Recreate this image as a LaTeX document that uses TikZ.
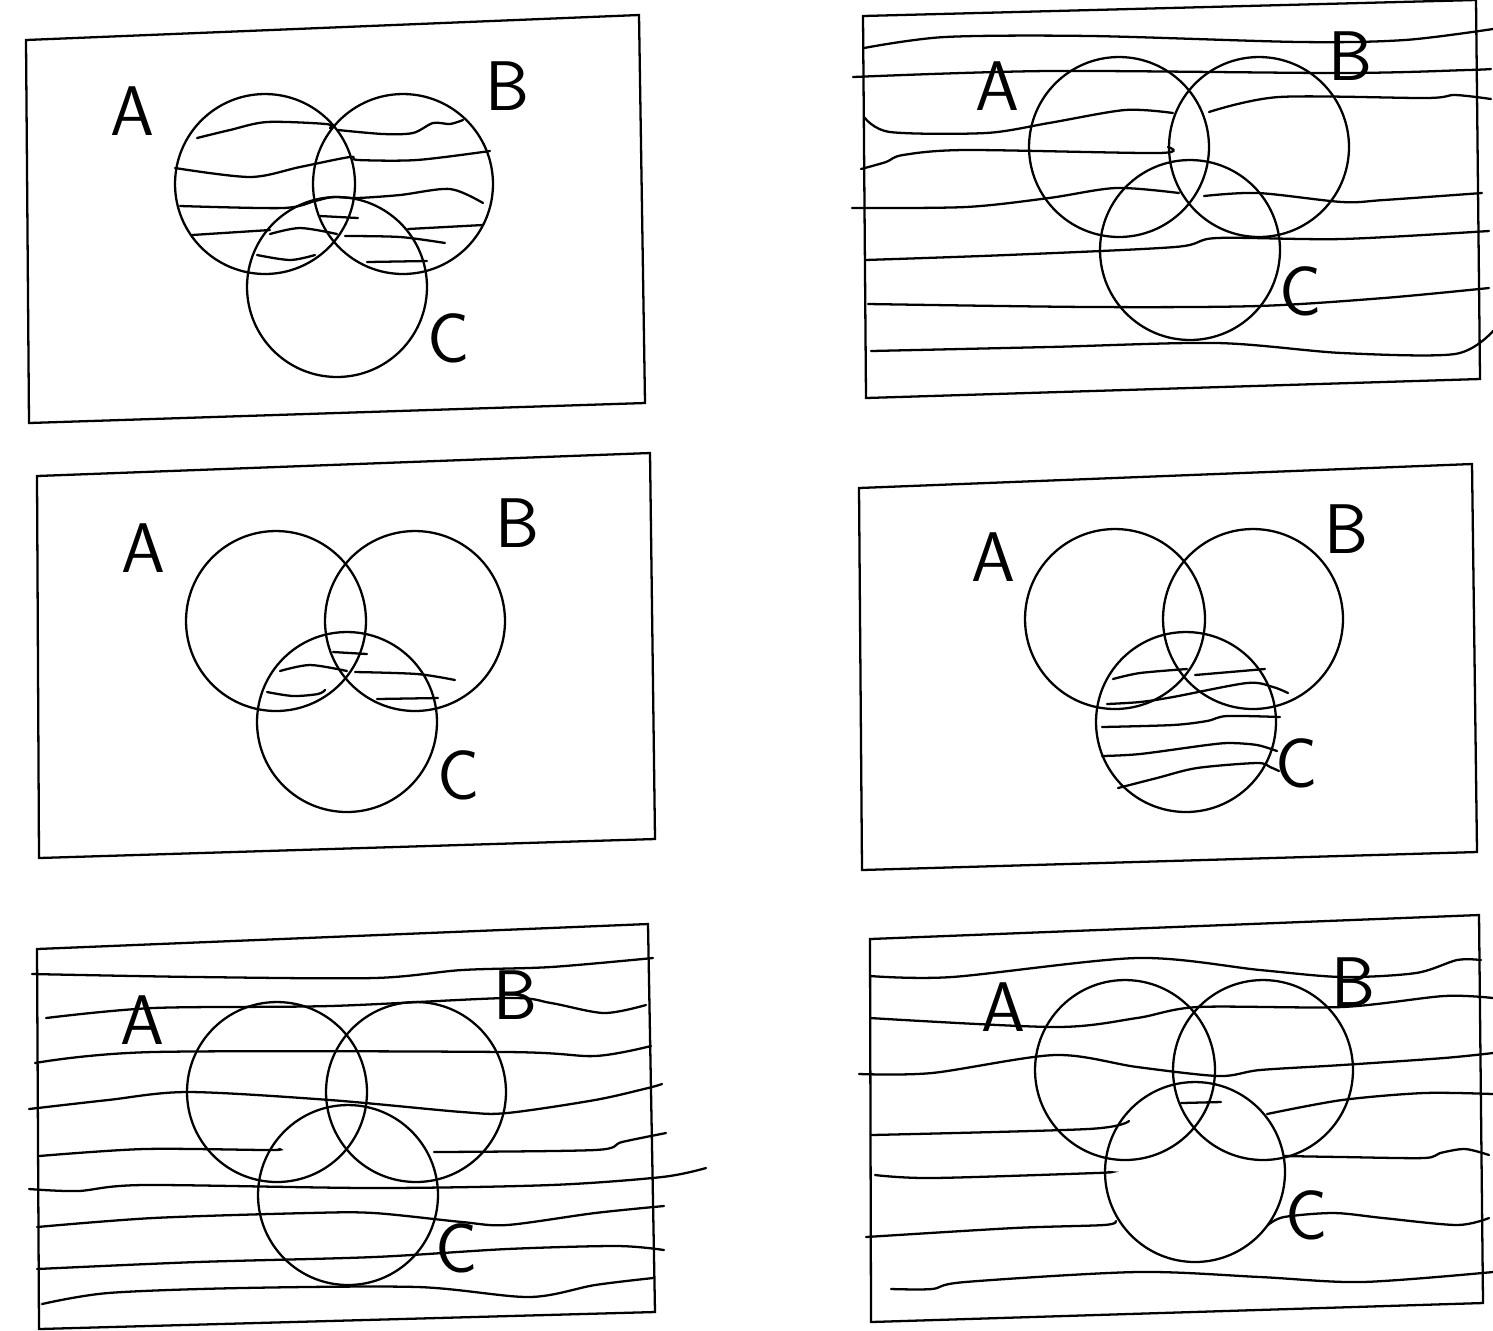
\documentclass[tikz,border=0pt]{standalone}
\usepackage{tikz}
\usetikzlibrary{positioning}
\tikzstyle{set} = [circle, draw, line width=1.3pt, minimum size=3.6cm, inner sep=0pt]
\tikzstyle{setname} = [font=\sffamily\fontsize{40}{40}\selectfont, inner sep=0pt]
\tikzstyle{frame} = [line width=1.3pt]
\tikzstyle{hatch} = [line width=1.3pt, line cap=round]

\begin{document}
\begin{tikzpicture}[x=0.02cm, y=-0.02cm]
        \useasboundingbox (0,0) rectangle (1493,1330);

        % top left
        \draw [frame] (26,40) -- (639,15) -- (645,403) -- (29,423) -- cycle;
        \node (A1) [set] at (265,184) {};
        \node (B1) [set] at (403,184) {};
        \node (C1) [set] at (337,287) {};
        \node (nA1) [setname] at (132,111) {A};
        \node (nB1) [setname] at (507,86) {B};
        \node (nC1) [setname] at (449,338) {C};
        \draw [hatch] plot [smooth] coordinates {(197,138) (230,130) (267,122) (326,124) (330,128)};
        \draw [hatch] plot [smooth] coordinates {(338,130) (383,134) (413,133) (433,123) (450,124) (463,120)};
        \draw [hatch] plot [smooth] coordinates {(175,168) (250,177) (300,167) (350,157) (358,160) (417,160) (490,151)};
        \draw [hatch] plot [smooth] coordinates {(180,206) (283,208) (315,201) (333,197) (357,198) (400,195) (450,189) (483,203)};
        \draw [hatch] (320,216) -- (358,218);
        \draw [hatch] (192,235) -- (270,230);
        \draw [hatch] plot [smooth] coordinates {(270,234) (300,228) (337,234)};
        \draw [hatch] plot [smooth] coordinates {(345,236) (400,237) (445,243)};
        \draw [hatch] (408,229) -- (483,225);
        \draw [hatch] plot [smooth] coordinates {(257,255) (290,260) (315,255)};
        \draw [hatch] (367,262) -- (427,261);

        % top right
        \draw [frame] (863,16) -- (1476,0) -- (1480,379) -- (866,398) -- cycle;
        \node (A2) [set] at (1119,147) {};
        \node (B2) [set] at (1259,147) {};
        \node (C2) [set] at (1190,250) {};
        \node (nA2) [setname] at (997,86) {A};
        \node (nB2) [setname] at (1350,56) {B};
        \node (nC2) [setname] at (1301,291) {C};
        \draw [hatch] plot [smooth] coordinates {(864,48) (945,37) (1091,36) (1300,42) (1405,40) (1493,29)};
        \draw [hatch] plot [smooth] coordinates {(853,77) (1049,71) (1342,73) (1468,70) (1491,69)};
        \draw [hatch] plot [smooth] coordinates {(864,117) (890,132) (986,133) (1049,123) (1125,110) (1173,113)};
        \draw [hatch] plot [smooth] coordinates {(1209,112) (1279,97) (1426,98) (1455,95) (1491,99)};
        \draw [hatch] plot [smooth] coordinates {(861,169) (886,162) (903,155) (966,150) (1158,153) (1168,147)};
        \draw [hatch] plot [smooth] coordinates {(852,208) (966,207) (1049,198) (1116,188) (1179,193)};
        \draw [hatch] plot [smooth] coordinates {(1204,196) (1258,193) (1342,202) (1384,200) (1482,193)};
        \draw [hatch] plot [smooth] coordinates {(865,260) (1007,255) (1175,247) (1217,238) (1342,239) (1489,231)};
        \draw [hatch] plot [smooth] coordinates {(868,304) (1091,307) (1258,306) (1384,298) (1489,288)};
        \draw [hatch] plot [smooth] coordinates {(871,351) (1049,347) (1217,343) (1342,353) (1455,354) (1493,331)};

        % middle left
        \draw [frame] (37,476) -- (650,453) -- (655,839) -- (39,858) -- cycle;
        \node (A3) [set] at (276,621) {};
        \node (B3) [set] at (415,621) {};
        \node (C3) [set] at (347,722) {};
        \node (nA3) [setname] at (143,548) {A};
        \node (nB3) [setname] at (517,523) {B};
        \node (nC3) [setname] at (459,775) {C};
        \draw [hatch] (333,652) -- (367,654);
        \draw [hatch] plot [smooth] coordinates {(280,671) (310,665) (347,671)};
        \draw [hatch] plot [smooth] coordinates {(355,672) (417,674) (455,680)};
        \draw [hatch] plot [smooth] coordinates {(267,692) (293,696) (318,694) (325,690)};
        \draw [hatch] (377,699) -- (438,698);

        % middle right
        \draw [frame] (859,488) -- (1472,464) -- (1477,852) -- (862,870) -- cycle;
        \node (A4) [set] at (1115,619) {};
        \node (B4) [set] at (1253,619) {};
        \node (C4) [set] at (1186,722) {};
        \node (nA4) [setname] at (993,557) {A};
        \node (nB4) [setname] at (1346,529) {B};
        \node (nC4) [setname] at (1297,763) {C};
        \draw [hatch] plot [smooth] coordinates {(1113,679) (1140,673) (1187,669)};
        \draw [hatch] (1195,675) -- (1265,669);
        \draw [hatch] plot [smooth] coordinates {(1107,704) (1140,702) (1173,697) (1247,683) (1273,687) (1288,693)};
        \draw [hatch] plot [smooth] coordinates {(1102,727) (1173,725) (1207,721) (1227,716) (1280,717)};
        \draw [hatch] plot [smooth] coordinates {(1102,756) (1140,754) (1207,745) (1230,743) (1257,745) (1277,751)};
        \draw [hatch] plot [smooth] coordinates {(1118,788) (1157,778) (1197,768) (1257,763) (1270,767) (1279,771)};

        % bottom left
        \draw [frame] (37,949) -- (648,924) -- (655,1312) -- (39,1329) -- cycle;
        \node (A5) [set] at (277,1092) {};
        \node (B5) [set] at (416,1092) {};
        \node (C5) [set] at (348,1195) {};
        \node (nA5) [setname] at (142,1020) {A};
        \node (nB5) [setname] at (515,995) {B};
        \node (nC5) [setname] at (457,1248) {C};
        \draw [hatch] plot [smooth] coordinates {(32,974) (197,977) (374,978) (462,970) (551,967) (653,958)};
        \draw [hatch] plot [smooth] coordinates {(46,1018) (153,1008) (330,1006) (507,998) (551,1003) (604,1013) (646,1005)};
        \draw [hatch] plot [smooth] coordinates {(35,1063) (153,1052) (507,1052) (595,1056) (651,1046)};
        \draw [hatch] plot [smooth] coordinates {(29,1109) (108,1100) (188,1092) (330,1100) (462,1112) (507,1113) (595,1100) (648,1088) (662,1084)};
        \draw [hatch] plot [smooth] coordinates {(39,1156) (144,1149) (268,1150) (279,1149)};
        \draw [hatch] plot [smooth] coordinates {(434,1152) (595,1150) (622,1142) (666,1133)};
        \draw [hatch] plot [smooth] coordinates {(29,1189) (78,1191) (144,1185) (374,1188) (551,1185) (662,1177) (706,1168)};
        \draw [hatch] plot [smooth] coordinates {(37,1227) (153,1218) (308,1213) (374,1213) (462,1222) (507,1225) (595,1213) (664,1206)};
        \draw [hatch] plot [smooth] coordinates {(37,1269) (197,1262) (374,1257) (507,1249) (617,1246) (664,1250)};
        \draw [hatch] plot [smooth] coordinates {(42,1304) (108,1293) (241,1288) (418,1287) (529,1297) (595,1285) (653,1278)};

        % bottom right
        \draw [frame] (870,939) -- (1479,915) -- (1483,1303) -- (871,1322) -- cycle;
        \node (A6) [set] at (1125,1070) {};
        \node (B6) [set] at (1263,1070) {};
        \node (C6) [set] at (1195,1172) {};
        \node (nA6) [setname] at (1003,1007) {A};
        \node (nB6) [setname] at (1353,982) {B};
        \node (nC6) [setname] at (1307,1215) {C};
        \draw [hatch] plot [smooth] coordinates {(870,976) (952,977) (1137,958) (1260,970) (1342,977) (1416,973) (1457,960) (1481,960)};
        \draw [hatch] plot [smooth] coordinates {(870,1018) (1055,1027) (1137,1018) (1198,1007) (1342,1007) (1444,996) (1493,998)};
        \draw [hatch] plot [smooth] coordinates {(859,1074) (932,1073) (1055,1055) (1137,1067) (1219,1076) (1260,1070) (1342,1065) (1444,1058) (1493,1053)};
        \draw [hatch] (1181,1103) -- (1221,1102);
        \draw [hatch] plot [smooth] coordinates {(871,1135) (1088,1129) (1129,1121)};
        \draw [hatch] plot [smooth] coordinates {(1267,1114) (1342,1100) (1424,1093) (1493,1094)};
        \draw [hatch] plot [smooth] coordinates {(875,1175) (932,1178) (1096,1173) (1108,1172)};
        \draw [hatch] plot [smooth] coordinates {(1284,1156) (1342,1157) (1424,1158) (1440,1153) (1465,1149) (1489,1155)};
        \draw [hatch] plot [smooth] coordinates {(866,1237) (1014,1228) (1104,1225) (1116,1221)};
        \draw [hatch] plot [smooth] coordinates {(1268,1225) (1284,1217) (1334,1213) (1383,1218) (1457,1225) (1489,1218)};
        \draw [hatch] plot [smooth] coordinates {(891,1289) (932,1289) (965,1282) (1137,1272) (1260,1277) (1362,1282) (1493,1272)};
    \end{tikzpicture}
\end{document}
